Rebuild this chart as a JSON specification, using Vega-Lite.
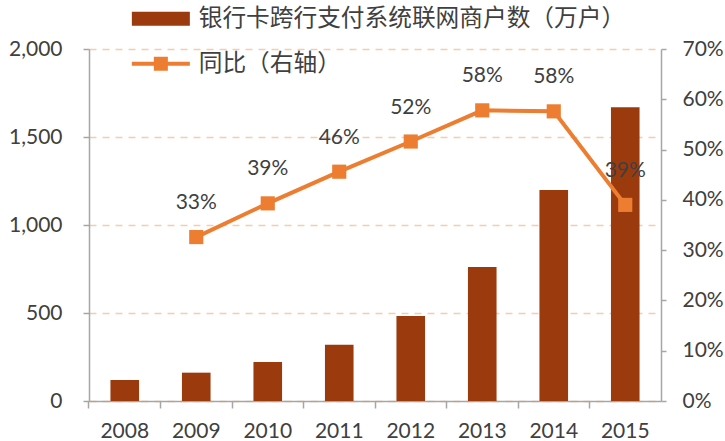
{
  "$schema": "https://vega.github.io/schema/vega-lite/v6.json",
  "width": 572,
  "height": 352,
  "autosize": "none",
  "padding": {"left": 89, "top": 49, "right": 64, "bottom": 40},
  "background": "white",
  "config": {"view": {"stroke": null}, "font": "Lato"},
  "data": {
    "values": [
      {"year": "2008", "merchants": 119, "yoy": null},
      {"year": "2009", "merchants": 161, "yoy": 0.326},
      {"year": "2010", "merchants": 222, "yoy": 0.393},
      {"year": "2011", "merchants": 320, "yoy": 0.456},
      {"year": "2012", "merchants": 483, "yoy": 0.516},
      {"year": "2013", "merchants": 761, "yoy": 0.578},
      {"year": "2014", "merchants": 1199, "yoy": 0.576},
      {"year": "2015", "merchants": 1669, "yoy": 0.39}
    ]
  },
  "encoding": {
    "x": {
      "field": "year",
      "type": "ordinal",
      "scale": {"paddingInner": 0.6, "paddingOuter": 0.3},
      "axis": {
        "title": null,
        "labelAngle": 0,
        "labelFont": "Lato",
        "labelFontSize": 21,
        "labelColor": "#404040",
        "labelPadding": 12,
        "domainColor": "#A6A6A6",
        "domainWidth": 1.5,
        "tickColor": "#A6A6A6",
        "tickWidth": 1.5,
        "tickSize": 7,
        "bandPosition": -0.75
      }
    }
  },
  "layer": [
    {
      "mark": {"type": "bar", "color": "#9B3A0C"},
      "encoding": {
        "y": {
          "field": "merchants",
          "type": "quantitative",
          "scale": {"domain": [0, 2000], "nice": false},
          "axis": {
            "orient": "left",
            "title": null,
            "values": [0, 500, 1000, 1500, 2000],
            "format": ",.0f",
            "grid": true,
            "gridDash": [7, 6],
            "gridColor": "#F8CBAD",
            "gridWidth": 1.5,
            "domainColor": "#A6A6A6",
            "domainWidth": 1.5,
            "tickColor": "#A6A6A6",
            "tickWidth": 1.5,
            "tickSize": 6,
            "labelPadding": 21,
            "labelFont": "Lato",
            "labelFontSize": 21,
            "labelColor": "#404040"
          }
        },
        "color": {
          "datum": "银行卡跨行支付系统联网商户数（万户）",
          "scale": {
            "domain": ["银行卡跨行支付系统联网商户数（万户）", "同比（右轴）"],
            "range": ["#9B3A0C", "#ED7D31"]
          },
          "legend": {
            "title": null,
            "orient": "none",
            "legendX": 60,
            "legendY": -42,
            "direction": "vertical",
            "padding": 0,
            "symbolSize": 400,
            "labelOffset": 26,
            "rowPadding": 19,
            "labelFont": "Noto Sans CJK SC",
            "labelFontSize": 23.7,
            "labelColor": "#404040",
            "labelLimit": 700,
            "encode": {
              "symbols": {
                "update": {
                  "shape": {"signal": "datum.value == '同比（右轴）' ? 'M-2.9,0H2.9M-0.5,-0.5H0.5V0.5H-0.5Z' : 'M-2.9,-0.7H2.9V0.7H-2.9Z'"},
                  "fill": {"signal": "datum.value == '同比（右轴）' ? '#ED7D31' : '#9B3A0C'"},
                  "stroke": {"signal": "datum.value == '同比（右轴）' ? '#ED7D31' : '#9B3A0C'"},
                  "strokeWidth": {"signal": "datum.value == '同比（右轴）' ? 4 : 0"},
                  "opacity": {"value": 1}
                }
              }
            }
          }
        }
      }
    },
    {
      "encoding": {
        "y": {
          "field": "yoy",
          "type": "quantitative",
          "scale": {"domain": [0, 0.7], "nice": false},
          "axis": {
            "orient": "right",
            "title": null,
            "values": [0, 0.1, 0.2, 0.3, 0.4, 0.5, 0.6, 0.7],
            "format": ".0%",
            "grid": false,
            "domainColor": "#A6A6A6",
            "domainWidth": 1.5,
            "tickColor": "#A6A6A6",
            "tickWidth": 1.5,
            "tickSize": 5,
            "labelPadding": 16,
            "labelFont": "Lato",
            "labelFontSize": 21,
            "labelColor": "#404040"
          }
        }
      },
      "layer": [
        {
          "mark": {"type": "line", "strokeWidth": 4},
          "encoding": {"color": {"datum": "同比（右轴）"}}
        },
        {
          "mark": {"type": "square", "filled": true, "size": 200, "color": "#ED7D31", "opacity": 1}
        },
        {
          "mark": {"type": "text", "dy": -34, "font": "Lato", "fontSize": 21, "color": "#404040"},
          "encoding": {"text": {"field": "yoy", "type": "quantitative", "format": ".0%"}}
        }
      ]
    }
  ],
  "resolve": {"scale": {"y": "independent"}}
}
